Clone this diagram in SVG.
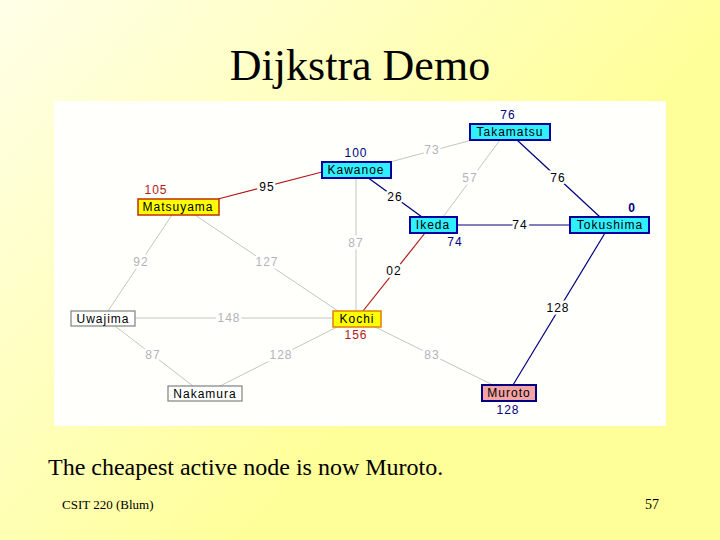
<svg xmlns="http://www.w3.org/2000/svg" width="720" height="540" viewBox="0 0 720 540">
<defs>
<linearGradient id="bg" x1="0" y1="0" x2="0.7" y2="0.5">
<stop offset="0" stop-color="#FFFFE8"/>
<stop offset="1" stop-color="#FFFF99"/>
</linearGradient>
</defs>
<style>
.t{font-family:"Liberation Sans",Arial,sans-serif;font-size:12px;letter-spacing:1px;text-anchor:middle}
.el{paint-order:stroke;stroke:#FFFFFF;stroke-width:5px}
.g{stroke:#C4C4C4;stroke-width:1;fill:none}
.n{stroke:#000080;stroke-width:1.2;fill:none}
.r{stroke:#B01818;stroke-width:1.2;fill:none}
.gl{fill:#B4B4B4}
.kl{fill:#000000}
.navy{fill:#000080}
.red{fill:#B01818}
.cyan{fill:#30F0FF;stroke:#0000A0;stroke-width:2}
.yel{fill:#FFFF00;stroke:#C03000;stroke-width:1.5}
.yel2{fill:#FFFF00;stroke:#E08000;stroke-width:1.5}
.pink{fill:#F4A4A4;stroke:#000080;stroke-width:2}
.wht{fill:#FFFFFF;stroke:#808080;stroke-width:1.2}
.serif{font-family:"Liberation Serif","Times New Roman",serif;fill:#000}
</style>
<rect width="720" height="540" fill="url(#bg)"/>
<text class="serif" x="360" y="80" font-size="44" text-anchor="middle">Dijkstra Demo</text>
<rect x="54" y="101" width="612" height="325" fill="#FFFFFC"/>

<g id="connectors">
<line class="g" x1="390" y1="162" x2="472" y2="140"/>
<line class="g" x1="500" y1="140" x2="443" y2="217"/>
<line class="n" x1="517" y1="140" x2="600" y2="217"/>
<line class="n" x1="367" y1="177" x2="422" y2="217"/>
<line class="r" x1="322" y1="172" x2="218" y2="199"/>
<line class="g" x1="356" y1="178" x2="356" y2="311"/>
<line class="n" x1="457" y1="225" x2="570" y2="225"/>
<line class="r" x1="425" y1="233" x2="363" y2="311"/>
<line class="n" x1="605" y1="233" x2="513" y2="385"/>
<line class="g" x1="172" y1="215" x2="108" y2="311"/>
<line class="g" x1="195" y1="215" x2="338" y2="311"/>
<line class="g" x1="135" y1="318" x2="333" y2="318"/>
<line class="g" x1="115" y1="326" x2="193" y2="386"/>
<line class="g" x1="220" y1="386" x2="337" y2="327"/>
<line class="g" x1="375" y1="327" x2="493" y2="385"/>
<text class="t el gl" x="432" y="154">73</text>
<text class="t el gl" x="470" y="182">57</text>
<text class="t el kl" x="558" y="182">76</text>
<text class="t el kl" x="395" y="201">26</text>
<text class="t el kl" x="267" y="191">95</text>
<text class="t el gl" x="356" y="247">87</text>
<text class="t el kl" x="520" y="229">74</text>
<text class="t el kl" x="394" y="275">02</text>
<text class="t el kl" x="558" y="312">128</text>
<text class="t el gl" x="141" y="266">92</text>
<text class="t el gl" x="267" y="266">127</text>
<text class="t el gl" x="229" y="322">148</text>
<text class="t el gl" x="153" y="359">87</text>
<text class="t el gl" x="281" y="359">128</text>
<text class="t el gl" x="432" y="359">83</text>
</g>

<g id="takamatsu">
<rect class="cyan" x="470" y="124" width="80" height="16"/>
<text class="t" x="510" y="136">Takamatsu</text>
<text class="t navy" x="508" y="119">76</text>
</g>
<g id="kawanoe">
<rect class="cyan" x="322" y="162" width="69" height="16"/>
<text class="t" x="356" y="174">Kawanoe</text>
<text class="t navy" x="356" y="157">100</text>
</g>
<g id="matsuyama">
<rect class="yel" x="138" y="199" width="81" height="16"/>
<text class="t" x="178" y="211">Matsuyama</text>
<text class="t red" x="156" y="194">105</text>
</g>
<g id="ikeda">
<rect class="cyan" x="410" y="217" width="47" height="16"/>
<text class="t" x="433" y="229">Ikeda</text>
<text class="t navy" x="455" y="246">74</text>
</g>
<g id="tokushima">
<rect class="cyan" x="570" y="217" width="79" height="16"/>
<text class="t" x="610" y="229">Tokushima</text>
<text class="t navy" x="632" y="212" font-weight="bold">0</text>
</g>
<g id="uwajima">
<rect class="wht" x="71" y="311" width="64" height="15"/>
<text class="t" x="103" y="323">Uwajima</text>
</g>
<g id="kochi">
<rect class="yel2" x="333" y="311" width="48" height="16"/>
<text class="t" x="357" y="323">Kochi</text>
<text class="t red" x="356" y="339">156</text>
</g>
<g id="nakamura">
<rect class="wht" x="168" y="386" width="74" height="15"/>
<text class="t" x="205" y="398">Nakamura</text>
</g>
<g id="muroto">
<rect class="pink" x="482" y="385" width="54" height="16"/>
<text class="t" x="509" y="397">Muroto</text>
<text class="t navy" x="508" y="414">128</text>
</g>

<text class="serif" x="48" y="475" font-size="24">The cheapest active node is now Muroto.</text>
<text class="serif" x="62" y="509" font-size="13">CSIT 220 (Blum)</text>
<text class="serif" x="645" y="509" font-size="14">57</text>
</svg>
